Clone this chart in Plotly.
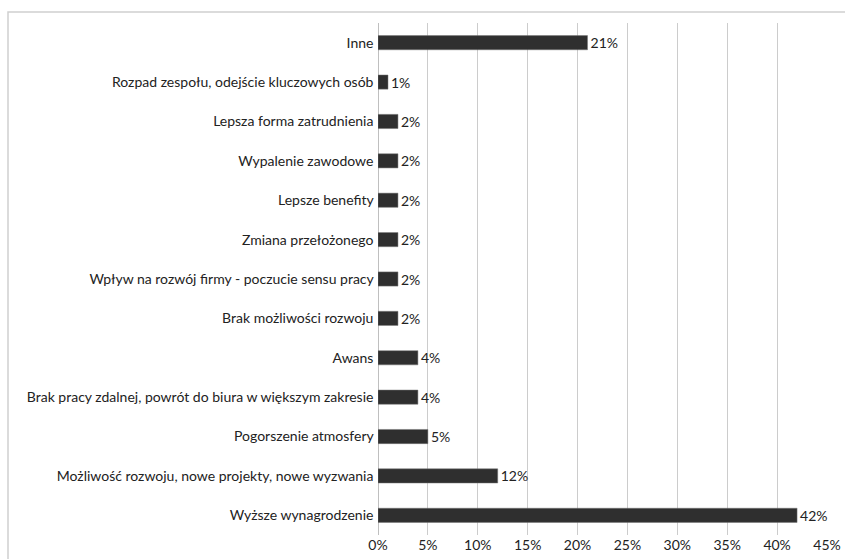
import plotly.graph_objects as go

categories = [
    "Wyższe wynagrodzenie",
    "Możliwość rozwoju, nowe projekty, nowe wyzwania",
    "Pogorszenie atmosfery",
    "Brak pracy zdalnej, powrót do biura w większym zakresie",
    "Awans",
    "Brak możliwości rozwoju",
    "Wpływ na rozwój firmy - poczucie sensu pracy",
    "Zmiana przełożonego",
    "Lepsze benefity",
    "Wypalenie zawodowe",
    "Lepsza forma zatrudnienia",
    "Rozpad zespołu, odejście kluczowych osób",
    "Inne",
]
values = [42, 12, 5, 4, 4, 2, 2, 2, 2, 2, 2, 1, 21]
tick_vals = [0, 5, 10, 15, 20, 25, 30, 35, 40, 45]
tick_text = [f"{v}%" for v in tick_vals]

FONT = "Lato, 'DejaVu Sans', sans-serif"

fig = go.Figure(go.Bar(
    y=categories,
    x=values,
    orientation="h",
    marker=dict(color="#2f2f2f", line=dict(color="#777777", width=0.5)),
    width=0.36,
    text=[f"{v}%" for v in values],
    textposition="outside",
    constraintext="none",
    textfont=dict(family=FONT, size=14, color="#222222"),
    cliponaxis=False,
))

fig.update_layout(
    width=845, height=559,
    margin=dict(l=378, r=18, t=23, b=24),
    paper_bgcolor="white",
    plot_bgcolor="white",
    showlegend=False,
    font=dict(family=FONT, size=14, color="#222222"),
    xaxis=dict(
        range=[0, 45],
        tickvals=tick_vals,
        ticktext=tick_text,
        showgrid=True,
        gridcolor="#cccccc",
        gridwidth=1,
        zeroline=True,
        zerolinecolor="#bfbfbf",
        zerolinewidth=1,
        showline=False,
        ticks="",
        automargin=False,
        tickfont=dict(family=FONT, size=14, color="#222222"),
        fixedrange=True,
    ),
    yaxis=dict(
        categoryorder="array",
        categoryarray=categories,
        showgrid=False,
        showline=False,
        ticks="",
        ticksuffix=" ",
        tickfont=dict(family=FONT, size=14, color="#222222"),
        automargin=False,
        range=[-0.5, len(categories) - 0.5],
    ),
    bargap=0.6,
    shapes=[
        dict(type="rect", xref="paper", yref="paper",
             x0=(8 - 378) / 449, x1=(850 - 378) / 449,
             y0=(535 - 565) / 512, y1=(535 - 12) / 512,
             line=dict(color="#d0d0d0", width=1.5),
             fillcolor="rgba(0,0,0,0)", layer="below"),
    ],
)

fig.write_html("out.html")
